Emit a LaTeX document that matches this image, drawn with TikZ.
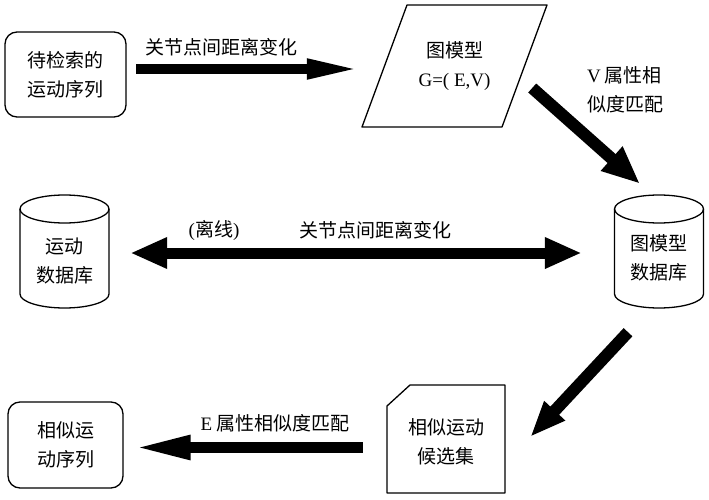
\documentclass[tikz,border=0pt]{standalone}
\usepackage{fontspec}
\setmainfont{Noto Sans CJK SC}
\newfontfamily\lat{Liberation Serif}
\usetikzlibrary{arrows.meta,calc}
\tikzset{
  shapeline/.style={draw=black, line width=1.3pt, line join=round},
  txt/.style={font=\fontsize{19pt}{29pt}\selectfont, align=center, inner sep=0pt},
  roundbox/.style={shapeline, rounded corners=12pt, txt},
  ghost/.style={txt, draw=none},
  bigarrow/.style={line width=#1, draw=black},
}
\newcommand{\cyl}[3]{% cx, top, bottom
  \draw[shapeline] (#1,#2+14) ellipse [x radius=44.5pt, y radius=14pt];
  \draw[shapeline] (#1-44.5,#2+14) -- (#1-44.5,#3-14)
     arc[start angle=180, end angle=360, x radius=44.5pt, y radius=14pt]
     -- (#1+44.5,#2+14);
}
\begin{document}
\begin{tikzpicture}[x=1pt,y=-1pt]
\useasboundingbox (0,0) rectangle (709,500);

% nodes
\node[roundbox, minimum width=121pt, minimum height=85pt] (box1) at (65.5,74.5) {待检索的\\运动序列};
\draw[shapeline] (407,5) -- (547,5) -- (502,127) -- (362,127) -- cycle;
\node[ghost, minimum width=185pt, minimum height=122pt] (gm) at (454.5,66) {图模型\\{\lat G=( E,V)}};
\cyl{64.5}{195}{308}
\node[ghost, minimum width=89pt, minimum height=113pt] (db1) at (64.5,251.5) {};
\node[txt] (db1t) at (64.5,261) {运动\\数据库};
\cyl{659}{195}{308}
\node[ghost, minimum width=89pt, minimum height=113pt] (db2) at (659,251.5) {};
\node[txt] (db2t) at (659,258) {图模型\\数据库};
\draw[shapeline] (410,385) -- (505,385) -- (505,493) -- (387,493) -- (387,406) -- cycle;
\node[ghost, minimum width=118pt, minimum height=108pt] (card) at (446,439) {};
\node[txt] (cardt) at (446,442) {相似运动\\候选集};
\node[roundbox, minimum width=115pt, minimum height=86pt] (sim) at (65.5,445) {相似运\\动序列};

% connectors
\draw[bigarrow=10pt, -{Triangle[length=56pt, width=18pt]}]
  ([shift={(9.5,-5.5)}]box1.east) -- ([shift={(1,3)}]gm.west);
\draw[bigarrow=12pt, -{Triangle[length=38pt, width=30pt]}]
  ([shift={(-15,22)}]gm.east) -- ([shift={(-19,-11)}]db2.north);
\draw[bigarrow=11pt, {Triangle[length=37pt, width=29pt]}-{Triangle[length=37pt, width=29pt]}]
  ([shift={(21,1.5)}]db1.east) -- ([shift={(-32.5,1.5)}]db2.west);
\draw[bigarrow=12pt, -{Triangle[length=36pt, width=26pt]}]
  ([shift={(-31,24)}]db2.south) -- ([shift={(25,-2)}]card.east);
\draw[bigarrow=11pt, -{Triangle[length=58pt, width=22pt]}]
  ([shift={(-24,8.5)}]card.west) -- ([shift={(9,2.5)}]sim.east);

% labels
\node[txt] (l1) at (221.5,47) {关节点间距离变化};
\node[txt, align=left] (l2) at (625,90) {{\lat V}\ 属性相\\似度匹配};
\node[txt] (l3) at (214,230) {{\lat (}离线{\lat )}};
\node[txt] (l4) at (375,230) {关节点间距离变化};
\node[txt] (l5) at (275,423) {{\lat E}\ 属性相似度匹配};
\end{tikzpicture}
\end{document}
